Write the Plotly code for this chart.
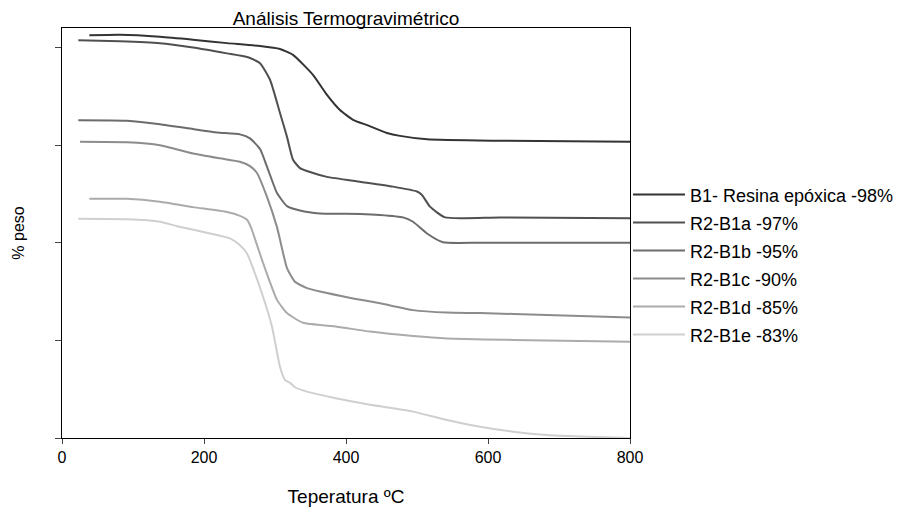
import plotly.graph_objects as go

# Temperature (°C) and relative weight (arbitrary offset units, as plotted)
names = ["B1- Resina epóxica -98%", "R2-B1a -97%", "R2-B1b -95%",
         "R2-B1c -90%", "R2-B1d -85%", "R2-B1e -83%"]
colors = ["#333333", "#505050", "#6c6c6c", "#8c8c8c", "#ababab", "#cfcfcf"]

t_b1 = [38.5, 81.7, 138, 184.5, 232.4, 278.9, 307, 325.4, 353.5, 373.2, 391.5, 409.9,
        429.6, 457.7, 476.1, 514.1, 607, 800]
w_b1 = [82.5, 82.6, 82.2, 81.6, 80.9, 80.3, 79.7, 78.5, 74.4, 70.3, 67.2, 65.2,
        64.1, 62.5, 61.9, 61.2, 60.9, 60.7]

t_b1a = [23, 81.7, 138, 184.5, 232.4, 262, 278.9, 293, 307, 316.9, 325.4, 335.2, 349.3,
         373.2, 419.7, 466.2, 500, 507, 518.3, 539.4, 617, 800]
w_b1a = [81.5, 81.3, 80.9, 80.0, 78.8, 78.0, 76.8, 73.4, 66.6, 61.7, 57.0, 55.3, 54.5,
         53.5, 52.5, 51.5, 50.5, 49.8, 47.4, 45.2, 45.2, 45.0]

t_b1b = [23, 91.5, 138, 184.5, 218.3, 250.7, 264.8, 278.9, 288.7, 302.8, 316.9, 335.2,
         363.4, 419.7, 447.9, 480.3, 494.4, 514.1, 536.6, 588.7, 800]
w_b1b = [65.1, 65.0, 64.3, 63.3, 62.6, 62.2, 61.4, 59.2, 55.6, 50.2, 47.5, 46.6,
         46.0, 45.9, 45.7, 45.2, 44.3, 41.9, 40.1, 40.0, 40.0]

t_b1c = [25.4, 91.5, 138, 184.5, 222.5, 250.7, 264.8, 274.6, 288.7, 302.8, 316.9, 328.2,
         345.1, 363.4, 409.9, 447.9, 494.4, 542.3, 588.7, 683.1, 800]
w_b1c = [60.7, 60.6, 60.0, 58.3, 57.3, 56.6, 55.7, 54.3, 49.4, 43.2, 34.8, 32.0,
         30.7, 30.0, 28.6, 27.6, 26.2, 25.7, 25.6, 25.2, 24.7]

t_b1d = [38.5, 91.5, 138, 184.5, 232.4, 250.7, 260.6, 266, 283.1, 302.8, 316.9, 339.4,
         387.3, 433.8, 494.4, 542.3, 635.2, 800]
w_b1d = [49.0, 49.0, 48.4, 47.3, 46.3, 45.5, 44.7, 43.2, 35.9, 28.3, 25.6, 23.6,
         22.8, 21.8, 20.9, 20.4, 20.1, 19.7]

t_b1e = [23, 91.5, 138, 162, 208.5, 236.6, 250.7, 260.6, 269, 283.1, 295.8, 307, 314.1,
         321.1, 328.2, 345.1, 387.3, 433.8, 494.4, 542.3, 588.7, 635.2, 683.1, 729.6, 800]
w_b1e = [44.9, 44.8, 44.3, 43.4, 41.9, 40.9, 39.5, 37.8, 34.8, 29.0, 22.8, 14.6, 11.9,
         11.3, 10.4, 9.5, 8.1, 6.8, 5.4, 3.7, 2.3, 1.3, 0.6, 0.3, 0.0]

x_ticks = [0, 200, 400, 600, 800]
y_ticks = [0, 20, 40, 60, 80]

series = [(t_b1, w_b1), (t_b1a, w_b1a), (t_b1b, w_b1b),
          (t_b1c, w_b1c), (t_b1d, w_b1d), (t_b1e, w_b1e)]

fig = go.Figure()
for i, ((t, w), n, c) in enumerate(zip(series, names, colors)):
    fig.add_trace(go.Scatter(x=t, y=w, mode="lines", name=n, legendgroup=f"g{i}",
                             line=dict(color=c, width=2, shape="spline", smoothing=0.5)))

font = "Liberation Sans, Arial, sans-serif"
fig.update_layout(
    width=896, height=500,
    margin=dict(l=54, r=274, t=20, b=70, autoexpand=False),
    paper_bgcolor="white", plot_bgcolor="white",
    font=dict(family=font, size=16, color="black"),
    title=dict(text="Análisis Termogravimétrico", xref="paper", x=0.5, xanchor="center",
               yref="container", y=0.98, yanchor="middle",
               font=dict(size=19, color="black")),
    legend=dict(x=0.9965, xanchor="left", y=0.638, yanchor="top",
                font=dict(size=18, color="black"), tracegroupgap=1.6,
                itemwidth=52, bgcolor="rgba(0,0,0,0)"),
    xaxis=dict(range=[0, 800], tickvals=x_ticks, ticks="outside", ticklen=5,
               showline=True, linecolor="black", linewidth=1, mirror=True,
               showgrid=False, zeroline=False, tickfont=dict(size=16),
               title=dict(text="Teperatura ºC", font=dict(size=19), standoff=24)),
    yaxis=dict(range=[0, 84], tickvals=y_ticks, ticks="outside", ticklen=6,
               showticklabels=False, showline=True, linecolor="black", linewidth=1,
               mirror=True, showgrid=False, zeroline=False,
               title=dict(text="% peso", font=dict(size=16), standoff=26)),
)

fig.write_html("out.html")
